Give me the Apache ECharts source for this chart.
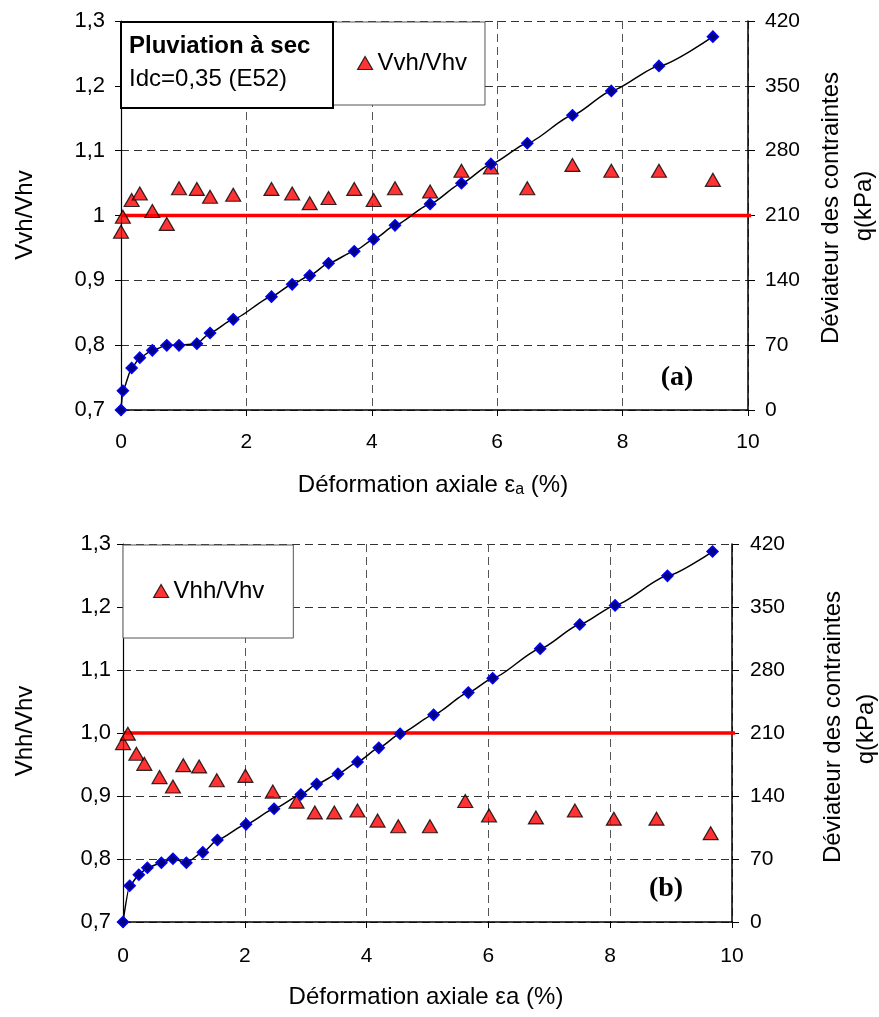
<!DOCTYPE html>
<html>
<head>
<meta charset="utf-8">
<script src="https://cdn.jsdelivr.net/npm/echarts@6/dist/echarts.min.js"></script>
<style>
html,body{margin:0;padding:0;background:#fff;}
#chart{width:879px;height:1017px;}
</style>
</head>
<body>
<div id="chart"></div>
<script>
// ---------- DATA (chart a) ----------
const strainA = [0, 0.03, 0.17, 0.30, 0.50, 0.73, 0.925, 1.21, 1.42, 1.79, 2.40, 2.73, 3.01, 3.31, 3.72, 4.03, 4.37, 4.93, 5.43, 5.90, 6.48, 7.20, 7.82, 8.58, 9.44];
const vvhA = [0.975, 0.998, 1.024, 1.034, 1.007, 0.987, 1.042, 1.041, 1.029, 1.032, 1.041, 1.034, 1.019, 1.027, 1.041, 1.024, 1.042, 1.037, 1.069, 1.074, 1.042, 1.078, 1.069, 1.069, 1.055];
const qA = [0, 20.8, 45.4, 56.5, 64.4, 69.8, 69.8, 71.6, 83.2, 97.9, 122.4, 135.7, 145.1, 158.4, 171.4, 184.3, 199.4, 222.5, 244.8, 265.7, 288, 318.2, 344.5, 371.5, 403.1];

// ---------- DATA (chart b) ----------
const strainBtri = [0, 0.08, 0.22, 0.35, 0.60, 0.82, 0.99, 1.25, 1.54, 2.01, 2.46, 2.85, 3.15, 3.47, 3.85, 4.18, 4.52, 5.04, 5.62, 6.01, 6.78, 7.42, 8.06, 8.76, 9.65];
const vhhB = [0.984, 0.999, 0.967, 0.951, 0.930, 0.915, 0.949, 0.947, 0.925, 0.932, 0.907, 0.891, 0.874, 0.874, 0.877, 0.861, 0.852, 0.852, 0.892, 0.869, 0.866, 0.877, 0.864, 0.864, 0.841];
const strainBq = [0, 0.11, 0.26, 0.40, 0.63, 0.82, 1.04, 1.31, 1.55, 2.02, 2.48, 2.92, 3.18, 3.53, 3.85, 4.20, 4.55, 5.10, 5.67, 6.07, 6.85, 7.50, 8.08, 8.94, 9.68];
const qB = [0, 40.3, 52.5, 60.3, 65.9, 70.3, 65.9, 77.4, 91.1, 108.5, 125.8, 141.7, 153.2, 164.6, 177.9, 193.5, 209.1, 230.2, 254.9, 270.8, 303.7, 330.6, 351.8, 384.6, 411.6];

// reference line Vx/Vhv = 1
const refX = [0, 10.15];
const refY = [1, 1];

// ---------- TICK LABELS ----------
const ratioLabelsA = ['0,7', '0,8', '0,9', '1', '1,1', '1,2', '1,3'];
const ratioLabelsB = ['0,7', '0,8', '0,9', '1,0', '1,1', '1,2', '1,3'];
const qLabels = ['0', '70', '140', '210', '280', '350', '420'];
const strainLabels = ['0', '2', '4', '6', '8', '10'];

const FONT = "'Liberation Sans', Arial, sans-serif";
const zip = (xs, ys) => xs.map((x, i) => [x, ys[i]]);

function xAxisFor(grid, margin) {
  return {
    type: 'value', gridIndex: grid, min: 0, max: 10, interval: 2,
    axisLine: { show: true, onZero: false, lineStyle: { color: '#000', width: 1.5 } },
    axisTick: { show: true, length: 6, lineStyle: { color: '#000' } },
    axisLabel: { fontFamily: FONT, fontSize: 21, color: '#000', margin: margin,
      formatter: (v, i) => strainLabels[i] },
    splitLine: { show: true, lineStyle: { color: '#555', width: 1, type: [8, 5] } }
  };
}
function yLeftFor(grid, labels, margin) {
  return {
    type: 'value', gridIndex: grid, position: 'left', min: 0.7, max: 1.3, interval: 0.1,
    axisLine: { show: true, onZero: false, lineStyle: { color: '#000', width: 1.2 } },
    axisTick: { show: true, length: 6, lineStyle: { color: '#000' } },
    axisLabel: { fontFamily: FONT, fontSize: 22, color: '#000', margin: margin,
      formatter: (v, i) => labels[i] },
    splitLine: { show: true, lineStyle: { color: '#333', width: 1, type: [8, 5] } }
  };
}
function yRightFor(grid, margin) {
  return {
    type: 'value', gridIndex: grid, position: 'right', min: 0, max: 420, interval: 70,
    axisLine: { show: true, onZero: false, lineStyle: { color: '#000', width: 1.5 } },
    axisTick: { show: true, length: 7, lineStyle: { color: '#000' } },
    axisLabel: { fontFamily: FONT, fontSize: 21, color: '#000', margin: margin,
      formatter: (v, i) => qLabels[i] },
    splitLine: { show: false }
  };
}

const triStyle = { color: '#ff0000', borderColor: '#000', borderWidth: 1.2 };
const diaStyle = { color: '#000080', borderColor: '#0000ff', borderWidth: 1.5 };

function seriesFor(grid, triName, triX, triY, qX, qY) {
  const xi = grid, yl = grid * 2, yr = grid * 2 + 1;
  return [
    { type: 'line', name: 'ref' + grid, xAxisIndex: xi, yAxisIndex: yl, data: zip(refX, refY),
      symbol: 'none', clip: false, silent: true, lineStyle: { color: '#ff0000', width: 3.5 }, z: 2 },
    { type: 'scatter', name: triName, xAxisIndex: xi, yAxisIndex: yl, data: zip(triX, triY),
      symbol: 'triangle', symbolSize: [15, 13], itemStyle: triStyle, z: 3 },
    { type: 'line', name: 'q' + grid, xAxisIndex: xi, yAxisIndex: yr, data: zip(qX, qY),
      smooth: 0.2, smoothMonotone: 'x', symbol: 'diamond', symbolSize: 11, showAllSymbol: true,
      lineStyle: { color: '#000', width: 1.5 }, itemStyle: diaStyle, z: 4 }
  ];
}

function vText(x, y, text, size) {
  return { type: 'text', x: x, y: y, rotation: Math.PI / 2, z: 50,
    style: { text: text, fontFamily: FONT, fontSize: size, fill: '#000', align: 'center', verticalAlign: 'middle' } };
}
function hText(x, y, text, size, weight, family, align) {
  return { type: 'text', x: x, y: y, z: 110,
    style: { text: text, fontFamily: family || FONT, fontSize: size, fontWeight: weight || 'normal', fill: '#000',
      align: align || 'center', verticalAlign: 'middle' } };
}

const chart = echarts.init(document.getElementById('chart'), null, { renderer: 'canvas' });
chart.setOption({
  backgroundColor: '#fff',
  animation: false,
  grid: [
    { left: 121, top: 21, width: 627, height: 389 },
    { left: 123, top: 544, width: 609, height: 378 }
  ],
  xAxis: [xAxisFor(0, 22), xAxisFor(1, 24)],
  yAxis: [yLeftFor(0, ratioLabelsA, 16), yRightFor(0, 17), yLeftFor(1, ratioLabelsB, 12), yRightFor(1, 18)],
  legend: [
    { data: ['Vvh/Vhv'], left: 333, top: 22, orient: 'horizontal', padding: [29, 18, 30, 24],
      backgroundColor: '#fff', borderColor: '#555', borderWidth: 1, itemWidth: 15, itemHeight: 13,
      icon: 'triangle', itemStyle: triStyle, selectedMode: false, z: 20,
      textStyle: { fontFamily: FONT, fontSize: 24, color: '#000', lineHeight: 23 } },
    { data: ['Vhh/Vhv'], left: 123, top: 545, orient: 'horizontal', padding: [34, 29, 35, 30],
      backgroundColor: '#fff', borderColor: '#555', borderWidth: 1, itemWidth: 15, itemHeight: 13,
      icon: 'triangle', itemStyle: triStyle, selectedMode: false, z: 20,
      textStyle: { fontFamily: FONT, fontSize: 24, color: '#000', lineHeight: 23 } }
  ],
  series: [].concat(
    seriesFor(0, 'Vvh/Vhv', strainA, vvhA, strainA, qA),
    seriesFor(1, 'Vhh/Vhv', strainBtri, vhhB, strainBq, qB)
  ),
  graphic: [
    // annotation box chart (a)
    { type: 'rect', shape: { x: 121, y: 22, width: 212, height: 86 }, z: 100,
      style: { fill: '#fff', stroke: '#000', lineWidth: 2 } },
    hText(129, 46, 'Pluviation à sec', 24, 'bold', null, 'left'),
    hText(129, 79, 'Idc=0,35 (E52)', 24, 'normal', null, 'left'),
    // panel tags
    hText(677, 378, '(a)', 28, 'bold', "'Liberation Serif', 'Times New Roman', serif"),
    hText(666, 889, '(b)', 28, 'bold', "'Liberation Serif', 'Times New Roman', serif"),
    // x-axis titles
    { type: 'text', x: 433, y: 485, z: 50,
      style: { text: '{n|Déformation axiale ε}{s|a}{n| (%)}', align: 'center', verticalAlign: 'middle',
        rich: { n: { fontFamily: FONT, fontSize: 24, fill: '#000' },
                s: { fontFamily: FONT, fontSize: 16, fill: '#000', padding: [10, 0, 0, 0] } } } },
    hText(426, 997, 'Déformation axiale εa (%)', 24),
    // left titles
    vText(25, 215, 'Vvh/Vhv', 24),
    vText(25, 731, 'Vhh/Vhv', 24),
    // right titles
    vText(831, 208, 'Déviateur des contraintes', 24),
    vText(864, 206, 'q(kPa)', 24),
    vText(833, 727, 'Déviateur des contraintes', 24),
    vText(866, 729, 'q(kPa)', 24)
  ]
});
</script>
</body>
</html>
